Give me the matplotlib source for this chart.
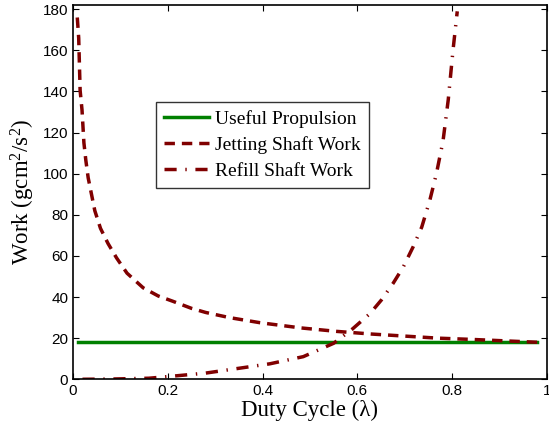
import matplotlib.pyplot as plt
import numpy as np

plt.rcParams['font.family'] = 'sans-serif'
plt.rcParams['font.sans-serif'] = ['Liberation Sans']
plt.rcParams['mathtext.default'] = 'regular'
plt.rcParams['xtick.direction'] = 'in'
plt.rcParams['ytick.direction'] = 'in'

# values
useful_x = [0.01, 0.98]
useful_y = [18.2, 18.2]

jet_x = [0.009, 0.012, 0.015, 0.019, 0.023, 0.027, 0.032, 0.039, 0.046, 0.058,
         0.074, 0.092, 0.114, 0.148, 0.18, 0.21, 0.25, 0.28, 0.33, 0.395,
         0.48, 0.556, 0.63, 0.70, 0.77, 0.84, 0.91, 0.98]
jet_y = [176, 166, 140.5, 131, 115, 106.6, 98, 90, 82, 73.4,
         66, 59, 51.6, 44.5, 40.5, 38, 34.5, 32.5, 30, 27.5,
         25, 23.3, 22, 21, 20, 19.4, 18.7, 18.0]

refill_x = [0.02, 0.08, 0.16, 0.21, 0.28, 0.34, 0.415, 0.486, 0.55, 0.59,
            0.627, 0.651, 0.676, 0.697, 0.718, 0.736, 0.753, 0.767, 0.781,
            0.792, 0.802, 0.811]
refill_y = [0.0, 0.1, 0.5, 1.5, 3.0, 5.0, 7.5, 11, 17.5, 24.5,
            32, 38.6, 46.8, 54.6, 64.5, 74, 87, 100, 116,
            136, 160, 179]

green = '#008000'
dred = '#800000'

fig = plt.figure(figsize=(5.49, 4.30), dpi=100)
ax = fig.add_axes([0.133, 0.118, 0.863, 0.870])

ax.plot(useful_x, useful_y, color=green, lw=2.5, label='Useful Propulsion')
ax.plot(jet_x, jet_y, color=dred, lw=2.5, ls=(0, (3, 2)), label='Jetting Shaft Work')
ax.plot(refill_x, refill_y, color=dred, lw=2.5, ls=(0, (3.5, 2.5, 0.4, 2.5)),
        label='Refill Shaft Work')

ax.set_xlim(0, 1)
ax.set_ylim(0, 182)
ax.set_xticks([0, 0.2, 0.4, 0.6, 0.8, 1])
ax.set_xticklabels(['0', '0.2', '0.4', '0.6', '0.8', '1'])
ax.set_yticks(np.arange(0, 181, 20))
ax.tick_params(labelsize=11, top=True, right=True, width=0.8, length=4)
for s in ax.spines.values():
    s.set_linewidth(1.2)

serif = {'family': 'Liberation Serif', 'size': 16.5}
ax.set_xlabel('Duty Cycle (λ)', fontdict=serif, labelpad=1)
ax.set_ylabel('Work (gcm$^2$/s$^2$)', fontdict=serif, labelpad=4)

leg = ax.legend(loc='upper left', bbox_to_anchor=(0.175, 0.742),
                prop={'family': 'Liberation Serif', 'size': 14},
                frameon=True, fancybox=False, handlelength=2.3,
                borderpad=0.42, labelspacing=0.42, handletextpad=0.3,
                borderaxespad=0)
leg.get_frame().set_edgecolor('black')
leg.get_frame().set_linewidth(1.0)

fig.savefig('out.png', dpi=100)
